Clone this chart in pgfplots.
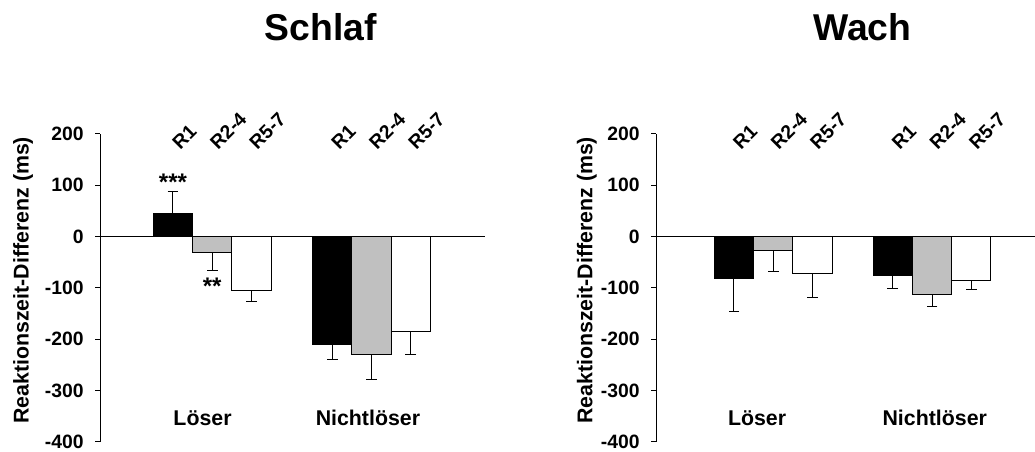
\documentclass[border=0pt]{standalone}
\usepackage{fontspec}
\setmainfont{Liberation Sans}
\usepackage{pgfplots}
\pgfplotsset{compat=1.18}
\definecolor{barg}{RGB}{192,192,192}
\pgfplotsset{panel/.style={
  scale only axis, height=231pt, ymin=-400, ymax=200, xmin=0,
  axis x line=none, axis y line*=left,
  y axis line style={line width=0.75pt, black},
  ytick={-400,-300,-200,-100,0,100,200},
  yticklabels={-400,-300,-200,-100,0,100,200},
  tick align=outside, major tick length=3.75pt,
  ytick style={line width=0.75pt, black},
  yticklabel style={font=\fontsize{14.5}{16}\selectfont\bfseries, xshift=-5pt},
  ybar, bar shift=0pt, bar width=1,
  clip=false,
  error bars/y explicit,
  error bars/error mark=-,
  error bars/error mark options={rotate=90, black, mark size=4pt, line width=0.75pt},
  error bars/error bar style={line width=0.75pt, black},
},
dn/.style={error bars/y dir=minus},
up/.style={error bars/y dir=plus},
}
\tikzset{
rlab/.style={rotate=45, anchor=base west, inner sep=0pt, font=\fontsize{14.5}{16}\selectfont\bfseries},
clab/.style={anchor=base, inner sep=0pt, font=\fontsize{16}{18}\selectfont\bfseries},
ttl/.style={anchor=base, inner sep=0pt, font=\fontsize{28}{30}\selectfont\bfseries},
ylab/.style={rotate=90, anchor=center, inner sep=0pt, font=\fontsize{16}{18}\selectfont\bfseries},
}
\begin{document}
\begin{tikzpicture}
\useasboundingbox (0,0) rectangle (776.25pt,339pt);
% ---------------- Schlaf ----------------
\begin{axis}[panel, at={(75pt,7.5pt)}, anchor=south west, width=288.75pt, xmax=9.8]
\draw[line width=0.75pt] (axis cs:0,0) -- (axis cs:9.8,0);
\addplot[up, fill=black, draw=black, line width=0.75pt] coordinates {(1.857,45) +- (0,43)};
\addplot[dn, fill=black, draw=black, line width=0.75pt] coordinates {(5.91,-210) +- (0,29)};
\addplot[dn, fill=barg, draw=black, line width=0.75pt] coordinates {
  (2.857,-30) +- (0,36.5)
  (6.91,-229) +- (0,48.5)
};
\addplot[dn, fill=white, draw=black, line width=0.75pt] coordinates {
  (3.857,-105.5) +- (0,21.5)
  (7.91,-184) +- (0,44.6)
};
\node[font=\fontsize{18}{20}\selectfont\bfseries, anchor=center, inner sep=0pt] at (axis cs:1.857,106) {***};
\node[font=\fontsize{18}{20}\selectfont\bfseries, anchor=center, inner sep=0pt] at (axis cs:2.857,-97) {**};
\node[rlab] at (axis cs:2.04,168) {R1};
\node[rlab] at (axis cs:3.0,168) {R2-4};
\node[rlab] at (axis cs:4.0,168) {R5-7};
\node[rlab] at (axis cs:6.09,168) {R1};
\node[rlab] at (axis cs:7.05,168) {R2-4};
\node[rlab] at (axis cs:8.05,168) {R5-7};
\node[clab] at (axis cs:2.61,-368.6) {Löser};
\node[clab] at (axis cs:6.82,-368.6) {Nichtlöser};
\node[ttl] at (axis cs:5.62,383) {Schlaf};
\node[ylab] at (axis cs:-1.96,-85) {Reaktionszeit-Differenz (ms)};
\end{axis}
% ---------------- Wach ----------------
\begin{axis}[panel, at={(492pt,7.5pt)}, anchor=south west, width=284.25pt, xmax=9.64]
\draw[line width=0.75pt] (axis cs:0,0) -- (axis cs:9.64,0);
\addplot[dn, fill=black, draw=black, line width=0.75pt] coordinates {
  (1.98,-81.4) +- (0,63.6)
  (6.02,-76.2) +- (0,24.1)
};
\addplot[dn, fill=barg, draw=black, line width=0.75pt] coordinates {
  (2.98,-26.7) +- (0,41.7)
  (7.02,-113.4) +- (0,23.4)
};
\addplot[dn, fill=white, draw=black, line width=0.75pt] coordinates {
  (3.98,-71.7) +- (0,46.3)
  (8.02,-86) +- (0,17)
};
\node[rlab] at (axis cs:2.16,168) {R1};
\node[rlab] at (axis cs:3.12,168) {R2-4};
\node[rlab] at (axis cs:4.12,168) {R5-7};
\node[rlab] at (axis cs:6.2,168) {R1};
\node[rlab] at (axis cs:7.16,168) {R2-4};
\node[rlab] at (axis cs:8.16,168) {R5-7};
\node[clab] at (axis cs:2.57,-368.6) {Löser};
\node[clab] at (axis cs:7.09,-368.6) {Nichtlöser};
\node[ttl] at (axis cs:5.25,383) {Wach};
\node[ylab] at (axis cs:-1.76,-85) {Reaktionszeit-Differenz (ms)};
\end{axis}
\end{tikzpicture}
\end{document}
